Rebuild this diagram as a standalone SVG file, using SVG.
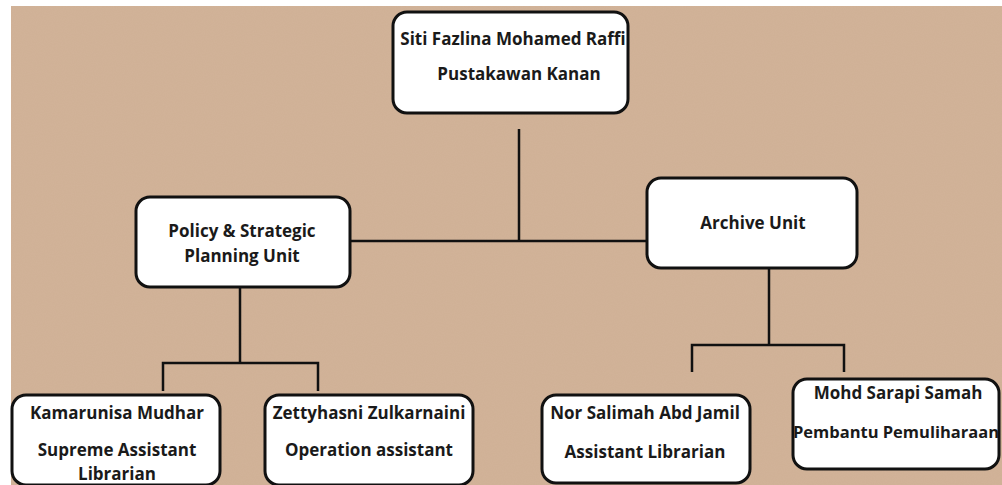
<svg xmlns="http://www.w3.org/2000/svg" width="1002" height="485" viewBox="0 0 1002 485">
  <defs>
    <filter id="grain" x="0" y="0" width="100%" height="100%">
      <feTurbulence type="fractalNoise" baseFrequency="0.9" numOctaves="2" seed="3" result="n"/>
      <feColorMatrix in="n" type="matrix" values="0 0 0 0 0.66  0 0 0 0 0.52  0 0 0 0 0.40  0 0 0 0.22 0"/>
    </filter>
  </defs>
  <style>
    .box { fill: #ffffff; stroke: #111111; stroke-width: 3; }
    .conn { fill: none; stroke: #111111; stroke-width: 2.5; stroke-linecap: butt; }
    .t { font-family: "Open Sans", "Liberation Sans", sans-serif; font-weight: 700; font-size: 17px; fill: #1a1a1a; text-anchor: middle; }
  </style>
  <rect x="0" y="0" width="1002" height="485" fill="#ffffff"/>
  <rect x="11" y="6" width="991" height="479" fill="#d0b095"/>
  <rect x="11" y="6" width="991" height="479" filter="url(#grain)"/>

  <g id="connectors">
    <path class="conn" d="M519,129 V241"/>
    <path class="conn" d="M350,241 H648"/>
    <path class="conn" d="M240,287 V363"/>
    <path class="conn" d="M163,391 V363 H318 V391"/>
    <path class="conn" d="M769,268 V345"/>
    <path class="conn" d="M692,372 V345 H844 V372"/>
  </g>

  <g id="node-siti">
    <rect class="box" x="393" y="12" width="235" height="101" rx="14"/>
    <text class="t" x="513" y="45">Siti Fazlina Mohamed Raffi</text>
    <text class="t" x="519" y="80">Pustakawan Kanan</text>
  </g>

  <g id="node-policy">
    <rect class="box" x="136" y="197" width="214" height="90" rx="14"/>
    <text class="t" x="242" y="237">Policy &amp; Strategic</text>
    <text class="t" x="242" y="262">Planning Unit</text>
  </g>

  <g id="node-archive">
    <rect class="box" x="647" y="178" width="210" height="90" rx="14"/>
    <text class="t" x="753" y="229">Archive Unit</text>
  </g>

  <g id="node-kamarunisa">
    <rect class="box" x="12" y="395" width="208" height="90" rx="14"/>
    <text class="t" x="117" y="419">Kamarunisa Mudhar</text>
    <text class="t" x="117" y="456">Supreme Assistant</text>
    <text class="t" x="117" y="480">Librarian</text>
  </g>

  <g id="node-zettyhasni">
    <rect class="box" x="265" y="395" width="208" height="90" rx="14"/>
    <text class="t" x="369" y="419">Zettyhasni Zulkarnaini</text>
    <text class="t" x="369" y="456">Operation assistant</text>
  </g>

  <g id="node-norsalimah">
    <rect class="box" x="542" y="395" width="208" height="88" rx="14"/>
    <text class="t" x="645" y="419">Nor Salimah Abd Jamil</text>
    <text class="t" x="645" y="458">Assistant Librarian</text>
  </g>

  <g id="node-mohd">
    <rect class="box" x="793" y="379" width="206" height="90" rx="14"/>
    <text class="t" x="898" y="399">Mohd Sarapi Samah</text>
    <text class="t" x="896" y="438" style="font-size:16.5px">Pembantu Pemuliharaan</text>
  </g>
</svg>
